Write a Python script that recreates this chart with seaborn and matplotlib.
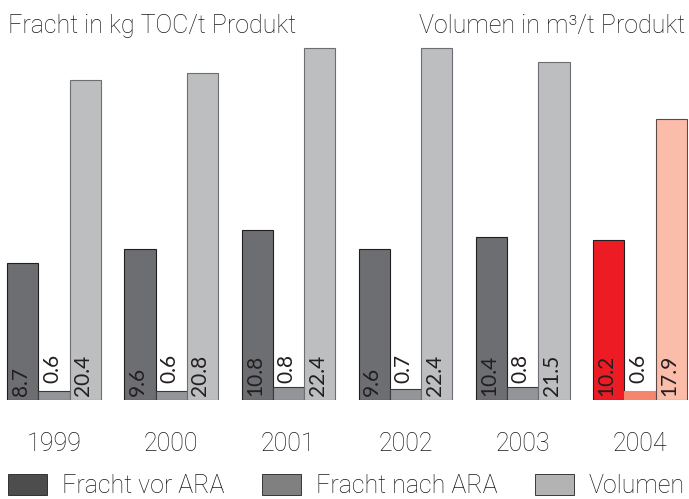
import pandas as pd
import seaborn as sns
import matplotlib.pyplot as plt
from matplotlib.patches import Patch

# Werte je Jahr
jahre = ['1999', '2000', '2001', '2002', '2003', '2004']
fracht_vor = [8.7, 9.6, 10.8, 9.6, 10.4, 10.2]
fracht_nach = [0.6, 0.6, 0.8, 0.7, 0.8, 0.6]
volumen = [20.4, 20.8, 22.4, 22.4, 21.5, 17.9]
serien = ['Fracht vor ARA', 'Fracht nach ARA', 'Volumen']

df = pd.DataFrame({
    'Jahr': jahre * 3,
    'Serie': [s for s in serien for _ in jahre],
    'Wert': fracht_vor + fracht_nach + volumen,
})

sns.set_style('white')
plt.rcParams['font.family'] = ['Lato', 'DejaVu Sans']

farben = ['#6d6e71', '#939598', '#bcbec0']
rand = ['#231f20', '#3a3a3c', '#6d6e71']
farben_2004 = ['#ed1c24', '#f5866d', '#fbbdaa']
rand_2004 = ['#231f20', '#f5866d', '#5c4a45']
legende_farben = ['#4d4d4d', '#808080', '#b3b3b3']
textfarbe = '#1a1a1a'
# dünnere Schrift für Titel, Jahre und Legende
duenn = dict(family=['Roboto', 'Lato'], weight='light')

fig = plt.figure(figsize=(6.89, 4.99), dpi=100)
ax = fig.add_axes([0, 99 / 499, 1, 400 / 499])

sns.barplot(data=df, x='Jahr', y='Wert', hue='Serie', hue_order=serien,
            palette=farben, saturation=1, width=0.8, gap=0,
            linewidth=0.8, legend=False, ax=ax)

for i, cont in enumerate(ax.containers):
    for j, bar in enumerate(cont):
        if j == len(jahre) - 1:
            bar.set_facecolor(farben_2004[i])
            bar.set_edgecolor(rand_2004[i])
        else:
            bar.set_edgecolor(rand[i])
        wert = bar.get_height()
        cx = bar.get_x() + bar.get_width() / 2
        dy = 17 if i == 1 else 4
        ax.annotate(f'{wert:.1f}', xy=(cx, 0), xytext=(-2, dy),
                    textcoords='offset pixels', rotation=90,
                    ha='center', va='bottom', fontsize=15, color='#231f20')

ax.set_xlim(-54 / 117.2, (689 - 54) / 117.2)
ax.set_ylim(0, 400 / 15.7)
ax.set_xlabel('')
ax.set_ylabel('')
ax.set_yticks([])
ax.tick_params(axis='x', length=0, pad=23, labelcolor=textfarbe)
for lab in ax.get_xticklabels():
    lab.set_fontproperties(dict(duenn, size=18))
sns.despine(ax=ax, left=True, bottom=True)

fig.text(8 / 689, 466 / 499, 'Fracht in kg TOC/t Produkt', ha='left',
         va='baseline', fontsize=18, color=textfarbe, **duenn)
fig.text(685 / 689, 466 / 499, 'Volumen in m³/t Produkt', ha='right',
         va='baseline', fontsize=18, color=textfarbe, **duenn)

handles = [Patch(facecolor=c, edgecolor='#231f20', linewidth=0.6)
           for c in legende_farben]
leg = fig.legend(handles, serien, loc='lower left',
                 bbox_to_anchor=(8 / 689, 1 / 499, 677 / 689, 0.05),
                 mode='expand', ncol=3, frameon=False, borderpad=0,
                 borderaxespad=0, handlelength=1.55, handleheight=0.9,
                 handletextpad=0.6, prop=dict(duenn, size=18))
for t in leg.get_texts():
    t.set_color(textfarbe)

fig.savefig('out.png', dpi=100, facecolor='white')
